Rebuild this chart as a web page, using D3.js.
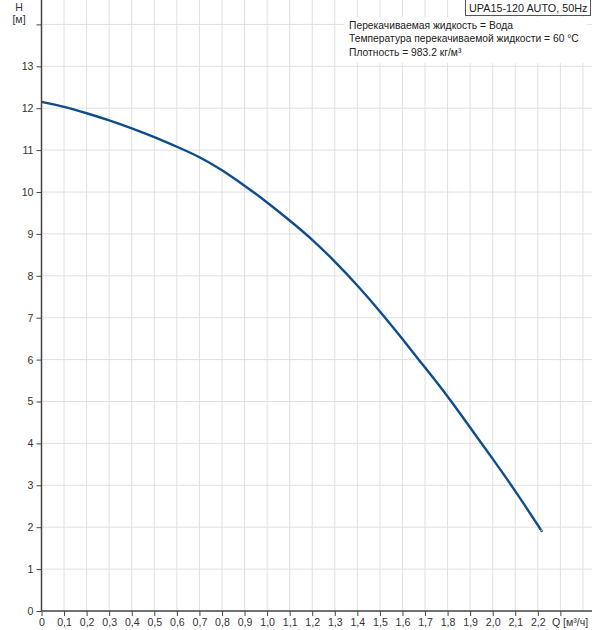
<!DOCTYPE html>
<html>
<head>
<meta charset="utf-8">
<script src="https://cdn.jsdelivr.net/npm/d3@7"></script>
<style>
  body { margin: 0; background: #fff; }
  svg { display: block; font-family: "Liberation Sans", Arial, sans-serif; }
  .grid line { stroke: #e0e0e0; stroke-width: 1; }
  .axis text { fill: #333; font-size: 10.6px; }
  .axis line, .axis path { stroke: #444; }
</style>
</head>
<body>
<script>
// Pump curve UPA15-120 AUTO
var flow = [0, 0.1, 0.2, 0.3, 0.4, 0.5, 0.6, 0.7, 0.8, 0.9, 1.0, 1.1,
            1.2, 1.3, 1.4, 1.5, 1.6, 1.7, 1.8, 1.9, 2.0, 2.1, 2.2, 2.216];
var head = [12.15, 12.03, 11.88, 11.71, 11.52, 11.31, 11.08, 10.83, 10.52, 10.15, 9.75, 9.32,
            8.86, 8.34, 7.77, 7.15, 6.49, 5.81, 5.12, 4.38, 3.63, 2.86, 2.05, 1.92];

var xTicks = [0, 0.1, 0.2, 0.3, 0.4, 0.5, 0.6, 0.7, 0.8, 0.9, 1.0, 1.1,
              1.2, 1.3, 1.4, 1.5, 1.6, 1.7, 1.8, 1.9, 2.0, 2.1, 2.2, 2.3];
var xGrid = xTicks.concat([2.4]);
var yTicks = [0, 1, 2, 3, 4, 5, 6, 7, 8, 9, 10, 11, 12, 13, 14];

var title = "UPA15-120 AUTO, 50Hz";
var notes = ["Перекачиваемая жидкость = Вода",
             "Температура перекачиваемой жидкости = 60 °C",
             "Плотность = 983.2 кг/м³"];

var width = 592, height = 630;
var x0 = 41.5, yBase = 611;

var x = d3.scaleLinear().domain([0, 2.4]).range([x0, x0 + 24 * 22.56]);
var y = d3.scaleLinear().domain([0, 14]).range([yBase, yBase - 14 * 41.9]);

svg = d3.select("body").append("svg")
    .attr("width", width)
    .attr("height", height);

// grid
var grid = svg.append("g").attr("class", "grid");
grid.selectAll(".vg").data(xGrid.slice(1)).enter().append("line")
    .attr("x1", function(d) { return x(d); })
    .attr("x2", function(d) { return x(d); })
    .attr("y1", 0)
    .attr("y2", yBase);
grid.selectAll(".hg").data(yTicks.slice(1)).enter().append("line")
    .attr("x1", x0)
    .attr("x2", width)
    .attr("y1", function(d) { return y(d); })
    .attr("y2", function(d) { return y(d); });

// notes box
svg.append("rect")
    .attr("x", 344).attr("y", 17)
    .attr("width", 243).attr("height", 46)
    .attr("fill", "#fff");
svg.selectAll(".note").data(notes).enter().append("text")
    .attr("x", 349)
    .attr("y", function(d, i) { return 29 + i * 13.3; })
    .attr("font-size", "10.3px")
    .attr("fill", "#222")
    .text(function(d) { return d; });

// curve
var line = d3.line()
    .x(function(d, i) { return x(flow[i]); })
    .y(function(d) { return y(d); })
    .curve(d3.curveNatural);
svg.append("path")
    .datum(head)
    .attr("fill", "none")
    .attr("stroke", "#0f4c8a")
    .attr("stroke-width", 2.4)
    .attr("d", line);

// axes
var xAxis = d3.axisBottom(x)
    .tickValues(xTicks)
    .tickSize(5)
    .tickFormat(function(d) {
        if (d === 2.3) return "Q [м³/ч]";
        if (d === 0) return "0";
        return d3.format(".1f")(d).replace(".", ",");
    });
var gx = svg.append("g")
    .attr("class", "axis")
    .attr("transform", "translate(0," + yBase + ")")
    .call(xAxis);
gx.select(".domain").attr("d", "M" + x0 + ",0H" + width).attr("stroke-width", 1.5);
gx.selectAll("text").attr("dy", "0.95em").attr("y", 5);
gx.selectAll(".tick text").filter(function(d) { return d === 2.3; })
    .attr("text-anchor", "start")
    .attr("x", -9);

var yAxis = d3.axisLeft(y)
    .tickValues(yTicks)
    .tickSize(5)
    .tickFormat(function(d) { return d === 14 ? "" : d; });
var gy = svg.append("g")
    .attr("class", "axis")
    .attr("transform", "translate(" + x0 + ",0)")
    .call(yAxis);
gy.select(".domain").attr("d", "M0,0V" + yBase).attr("stroke-width", 1.5);
gy.selectAll("text").attr("x", -8);

// axis title
svg.append("text").attr("x", 19).attr("y", 11)
    .attr("text-anchor", "middle").attr("font-size", "10.6px").attr("fill", "#333")
    .text("H");
svg.append("text").attr("x", 19).attr("y", 23)
    .attr("text-anchor", "middle").attr("font-size", "10.6px").attr("fill", "#333")
    .text("[м]");

// title box
svg.append("rect")
    .attr("x", 465.5).attr("y", -1)
    .attr("width", 125).attr("height", 16.5)
    .attr("fill", "#fff")
    .attr("stroke", "#555");
svg.append("text")
    .attr("x", 469).attr("y", 12)
    .attr("font-size", "10.8px").attr("fill", "#222")
    .text(title);
</script>
</body>
</html>
